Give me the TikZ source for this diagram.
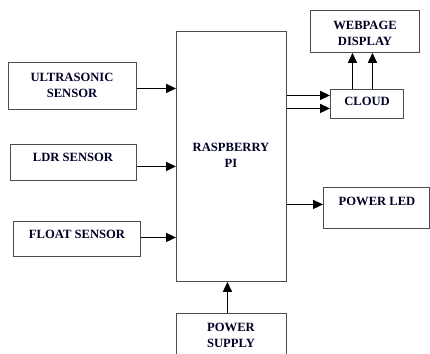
\documentclass[tikz,border=0pt]{standalone}
\usepackage{fontspec}
\setmainfont{Liberation Serif}
\usetikzlibrary{arrows.meta,calc}
\begin{document}
\begin{tikzpicture}[x=1pt,y=-1pt,
  box/.style={draw=black!70, line width=0.9pt, inner sep=0pt, anchor=north west},
  lbl/.style={font=\bfseries\fontsize{12.6}{16}\selectfont, align=center, text=black!85!blue, inner sep=0pt},
  arr/.style={line width=1.6pt, -{Triangle[length=10pt,width=9pt]}}]
\useasboundingbox (0,0) rectangle (430,353);
% boxes
\node[box, minimum width=128pt, minimum height=47pt] (us) at (8,62) {};
\node[box, minimum width=126pt, minimum height=36pt] (ldr) at (10,144) {};
\node[box, minimum width=127pt, minimum height=35pt] (fl) at (13,221) {};
\node[box, minimum width=110pt, minimum height=250pt] (rpi) at (176,31) {};
\node[box, minimum width=110pt, minimum height=60pt] (ps) at (176,313) {};
\node[box, minimum width=109pt, minimum height=42pt] (web) at (310,10) {};
\node[box, minimum width=73pt, minimum height=29pt] (cl) at (330,89) {};
\node[box, minimum width=106pt, minimum height=41pt] (led) at (323,187) {};
% labels
\node[lbl] (tus) at (72,85) {ULTRASONIC\\SENSOR};
\node[lbl] (tldr) at (73,157) {LDR SENSOR};
\node[lbl] (tfl) at (77,234) {FLOAT SENSOR};
\node[lbl] (trpi) at (231,155) {RASPBERRY\\PI};
\node[lbl] (tps) at (231,335) {POWER\\SUPPLY};
\node[lbl] (tweb) at (365,33) {WEBPAGE\\DISPLAY};
\node[lbl] (tcl) at (367,101) {CLOUD};
\node[lbl] (tled) at (377,201) {POWER LED};
% connector anchor points
\coordinate (a1) at ($(us.east)+(0,2.5)$);
\coordinate (a2) at ($(ldr.east)+(0,4)$);
\coordinate (a3) at ($(fl.east)+(0,-1.5)$);
\coordinate (c1) at ($(cl.west)+(0,-8.5)$);
\coordinate (c2) at ($(cl.west)+(0,4.5)$);
\coordinate (u1) at ($(cl.north)+(-14.5,0)$);
\coordinate (u2) at ($(cl.north)+(5.5,0)$);
\coordinate (l1) at ($(led.west)+(0,-3.5)$);
\coordinate (p1) at ($(ps.north)+(-4,0)$);
% connectors
\draw[arr] (a1) -- (a1 -| rpi.west);
\draw[arr] (a2) -- (a2 -| rpi.west);
\draw[arr] (a3) -- (a3 -| rpi.west);
\draw[arr] (c1 -| rpi.east) -- (c1);
\draw[arr] (c2 -| rpi.east) -- (c2);
\draw[arr] (u1) -- (u1 |- web.south);
\draw[arr] (u2) -- (u2 |- web.south);
\draw[arr] (l1 -| rpi.east) -- (l1);
\draw[arr] (p1) -- (p1 |- rpi.south);
\end{tikzpicture}
\end{document}
